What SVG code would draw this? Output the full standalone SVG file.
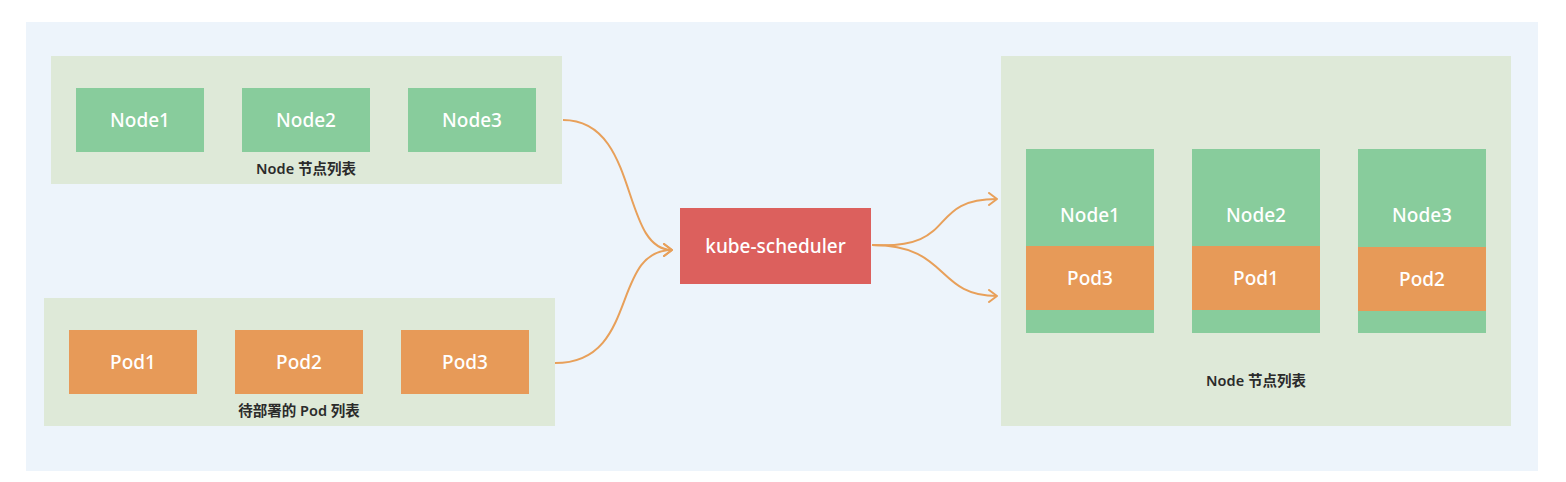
<svg xmlns="http://www.w3.org/2000/svg" width="1566" height="482" viewBox="0 0 1566 482">
<defs>
<marker id="arr" markerWidth="14" markerHeight="14" refX="10" refY="7" orient="auto" markerUnits="userSpaceOnUse">
<path d="M2,1 L10,7 L2,13" fill="none" stroke="#e8a05a" stroke-width="2" stroke-linecap="round" stroke-linejoin="round"/>
</marker>
<style>
.bg{fill:#edf4fb}
.cont{fill:#dee9d8}
.green{fill:#88cc9c}
.orange{fill:#e79a58}
.red{fill:#dc605d}
.t{font-family:"Noto Sans","Noto Sans CJK SC",sans-serif;font-size:19px;font-weight:500;fill:#ffffff;text-anchor:middle;dominant-baseline:central}
.lbl{font-family:"Noto Sans","Noto Sans CJK SC",sans-serif;font-size:14.5px;font-weight:600;fill:#2b2b2b;text-anchor:middle;dominant-baseline:central}
.edge{fill:none;stroke:#e8a05a;stroke-width:2;marker-end:url(#arr)}
</style>
</defs>
<rect x="0" y="0" width="1566" height="482" fill="#ffffff"/>
<rect class="bg" x="26" y="22" width="1512" height="449"/>

<g id="node-list">
<rect class="cont" x="51" y="56" width="511" height="128"/>
<text class="lbl" x="306" y="168">Node 节点列表</text>
</g>
<g id="list-node1"><rect class="green" x="76" y="88" width="128" height="64"/><text class="t" x="140" y="120">Node1</text></g>
<g id="list-node2"><rect class="green" x="242" y="88" width="128" height="64"/><text class="t" x="306" y="120">Node2</text></g>
<g id="list-node3"><rect class="green" x="408" y="88" width="128" height="64"/><text class="t" x="472" y="120">Node3</text></g>

<g id="pod-list">
<rect class="cont" x="44" y="298" width="511" height="128"/>
<text class="lbl" x="299" y="410">待部署的 Pod 列表</text>
</g>
<g id="list-pod1"><rect class="orange" x="69" y="330" width="128" height="64"/><text class="t" x="133" y="362">Pod1</text></g>
<g id="list-pod2"><rect class="orange" x="235" y="330" width="128" height="64"/><text class="t" x="299" y="362">Pod2</text></g>
<g id="list-pod3"><rect class="orange" x="401" y="330" width="128" height="64"/><text class="t" x="465" y="362">Pod3</text></g>

<g id="scheduler">
<rect class="red" x="680" y="208" width="191" height="76"/>
<text class="t" x="775.5" y="246">kube-scheduler</text>
</g>

<g id="result-list">
<rect class="cont" x="1001" y="56" width="510" height="370"/>
<text class="lbl" x="1256" y="380">Node 节点列表</text>
</g>
<g id="result-node1">
<rect class="green" x="1026" y="149" width="128" height="184"/>
<rect class="orange" x="1026" y="246" width="128" height="64"/>
<text class="t" x="1090" y="215">Node1</text>
<text class="t" x="1090" y="278">Pod3</text>
</g>
<g id="result-node2">
<rect class="green" x="1192" y="149" width="128" height="184"/>
<rect class="orange" x="1192" y="246" width="128" height="64"/>
<text class="t" x="1256" y="215">Node2</text>
<text class="t" x="1256" y="278">Pod1</text>
</g>
<g id="result-node3">
<rect class="green" x="1358" y="149" width="128" height="184"/>
<rect class="orange" x="1358" y="247" width="128" height="64"/>
<text class="t" x="1422" y="215">Node3</text>
<text class="t" x="1422" y="279">Pod2</text>
</g>

<g id="connectors">
<path class="edge" d="M563,120 C640,120 620,250 672,250"/>
<path class="edge" d="M555,363 C640,363 610,250 672,250"/>
<path class="edge" d="M872,245 C960,250 925,199 997,199"/>
<path class="edge" d="M872,245 C950,245 935,296 997,296"/>
</g>
</svg>
